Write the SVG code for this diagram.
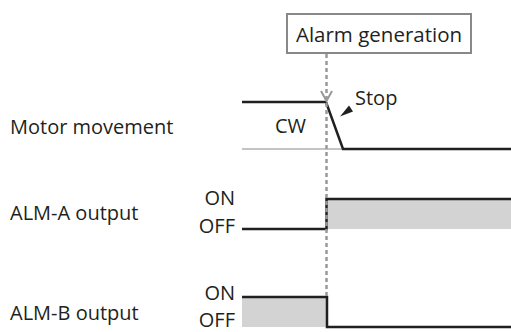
<svg xmlns="http://www.w3.org/2000/svg" width="511" height="332" viewBox="0 0 511 332">
<style>
text{font-family:"Open Sans","Liberation Sans",sans-serif;font-size:20px;fill:#231f20}
.sig{fill:none;stroke:#231f20;stroke-width:2.5}
.fill{fill:#d3d3d3;stroke:none}
.end{text-anchor:end}
</style>
<rect width="511" height="332" fill="#fff"/>
<g id="labels">
<text x="10" y="134">Motor movement</text>
<text x="10" y="220">ALM-A output</text>
<text x="10" y="320">ALM-B output</text>
<text class="end" x="235" y="205">ON</text>
<text class="end" x="235" y="233">OFF</text>
<text class="end" x="235" y="300">ON</text>
<text class="end" x="235" y="327">OFF</text>
</g>
<g id="motor">
<line x1="242" y1="149" x2="343" y2="149" stroke="#888" stroke-width="1"/>
<polyline class="sig" points="242,102 326,102 343,149 511,149"/>
<text x="275" y="133">CW</text>
<text x="355" y="105">Stop</text>
<polygon points="340,116.5 349,105.5 353,111.5" fill="#231f20"/>
</g>
<g id="alm-a">
<rect class="fill" x="327" y="199" width="184" height="30"/>
<polyline class="sig" points="242,229 326.5,229 326.5,199 511,199"/>
</g>
<g id="alm-b">
<rect class="fill" x="242" y="297" width="85" height="30"/>
<polyline class="sig" points="242,297 327,297 327,327 511,327"/>
</g>
<g id="connectors">
<line x1="326.5" y1="54" x2="326.5" y2="296" stroke="#999" stroke-width="2.5" stroke-dasharray="4,3"/>
<polyline points="321,91 326.5,101 332,91" fill="none" stroke="#999" stroke-width="2"/>
</g>
<g id="alarm">
<rect x="287" y="14" width="184" height="39" fill="#fff" stroke="#888" stroke-width="2"/>
<text x="379" y="42" text-anchor="middle" style="font-size:20.5px">Alarm generation</text>
</g>
</svg>
